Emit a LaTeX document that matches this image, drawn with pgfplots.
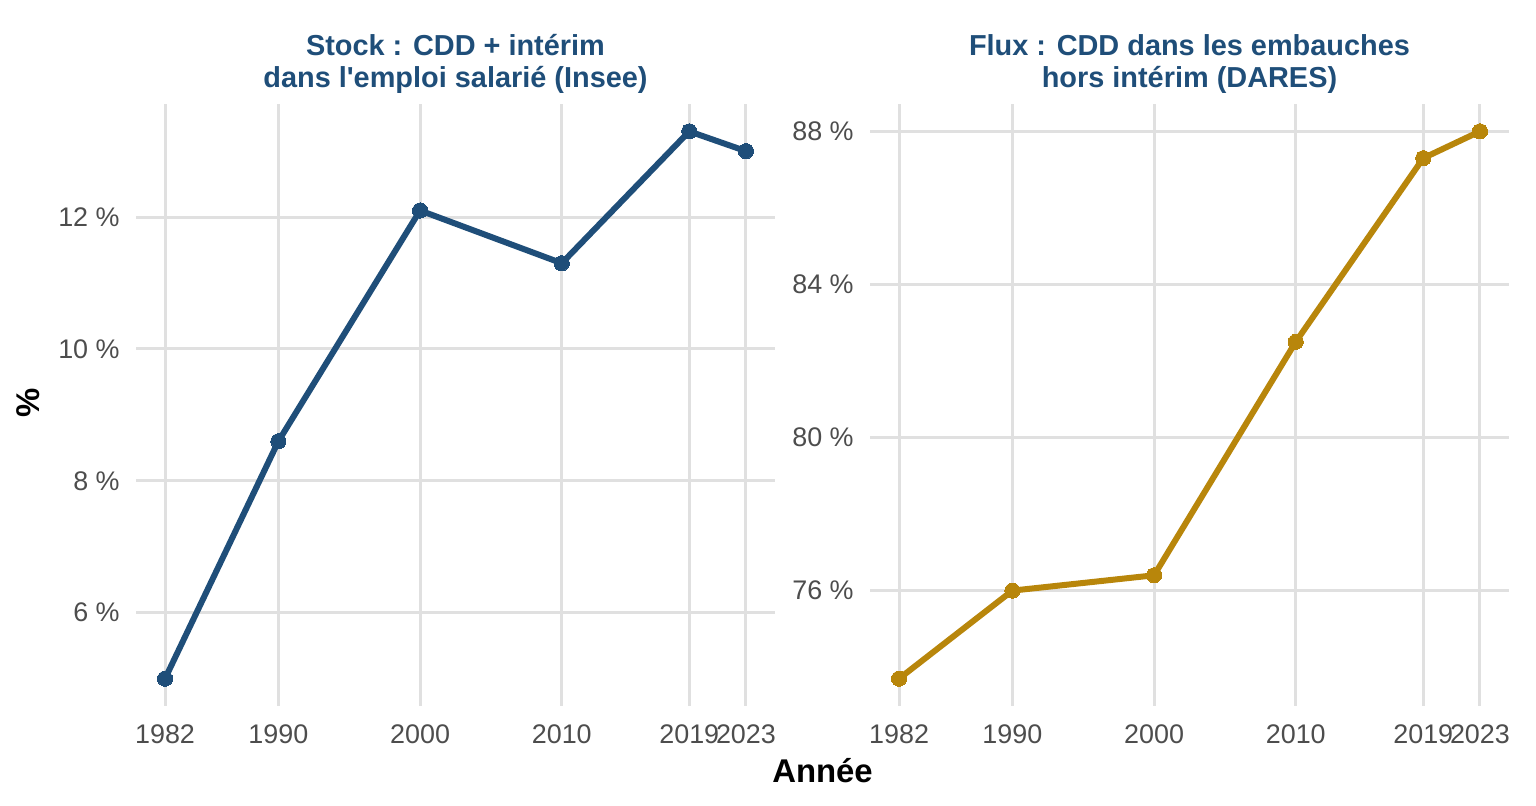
\documentclass[border=0pt]{standalone}
\usepackage{fontspec}
\setmainfont{Liberation Sans}
\usepackage{pgfplots}
\pgfplotsset{compat=1.18}
\definecolor{cblue}{HTML}{1F4E79}
\definecolor{cgold}{HTML}{B8860B}
\definecolor{tickgray}{HTML}{4D4D4D}
\definecolor{gridgray}{HTML}{E0E0E0}
\pgfplotsset{panel/.style={
  scale only axis, width=319.5bp, height=301bp,
  anchor=south west,
  axis line style={draw=none},
  major tick length=0pt,
  xmajorgrids, ymajorgrids,
  grid style={gridgray, line width=1.5bp},
  xtick={1982,1990,2000,2010,2019,2023},
  xticklabels={1982,1990,2000,2010,2019,2023},
  xmin=1979.95, xmax=2025.05,
  ticklabel style={font=\fontsize{13.5}{14}\selectfont, text=tickgray},
  xticklabel style={anchor=base, inner sep=0pt, yshift=-18.5bp},
  yticklabel style={anchor=east, inner sep=0pt, xshift=-8bp},
  title style={at={(0.5,1)}, anchor=south, yshift=-1bp, inner sep=0pt, align=center,
    font=\bfseries\fontsize{14.5}{16}\selectfont, text=cblue},
  every axis plot/.append style={line width=3bp, line join=round},
}}
\begin{document}
\begin{tikzpicture}
\path[use as bounding box] (0,0) rectangle (768bp,403bp);
\begin{axis}[panel, at={(68bp,50bp)},
  ymin=4.585, ymax=13.715,
  ytick={6,8,10,12}, yticklabels={6 \%,8 \%,10 \%,12 \%},
  title={Stock : CDD + intérim\\dans l\textquotesingle emploi salarié (Insee)}]
\addplot[cblue, mark=*, mark size=3.8bp, mark options={fill=cblue, draw=cblue, line width=0pt}]
  coordinates {(1982,5.0) (1990,8.6) (2000,12.1) (2010,11.3) (2019,13.3) (2023,13.0)};
\end{axis}
\begin{axis}[panel, at={(435bp,50bp)},
  ymin=72.985, ymax=88.715,
  ytick={76,80,84,88}, yticklabels={76 \%,80 \%,84 \%,88 \%},
  title={Flux : CDD dans les embauches\\hors intérim (DARES)}]
\addplot[cgold, mark=*, mark size=3.8bp, mark options={fill=cgold, draw=cgold, line width=0pt}]
  coordinates {(1982,73.7) (1990,76.0) (2000,76.4) (2010,82.5) (2019,87.3) (2023,88.0)};
\end{axis}
\node[rotate=90, font=\bfseries\fontsize{16.5}{18}\selectfont] at (14bp,201.5bp) {\%};
\node[anchor=base, font=\bfseries\fontsize{16.5}{18}\selectfont, inner sep=0pt] at (411.25bp,12bp) {Année};
\end{tikzpicture}
\end{document}
